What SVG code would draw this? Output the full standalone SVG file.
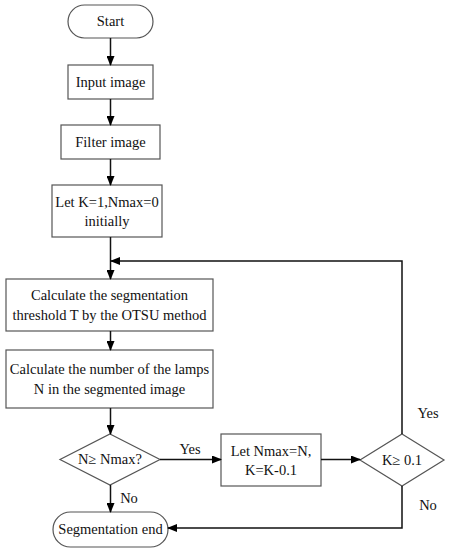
<svg xmlns="http://www.w3.org/2000/svg" width="449" height="550" viewBox="0 0 449 550">
<defs>
<marker id="ah" markerWidth="10" markerHeight="8" refX="9" refY="4" orient="auto" markerUnits="userSpaceOnUse">
<path d="M0,0 L10,4 L0,8 z" fill="#000"/>
</marker>
<style>
.n{fill:#fff;stroke:#555;stroke-width:1.2}
.t{font-family:"Liberation Serif","Times New Roman",serif;font-size:14.5px;fill:#111;text-anchor:middle}
.c{fill:none;stroke:#111;stroke-width:1.5}
</style>
</defs>
<rect width="449" height="550" fill="#fff"/>
<g id="start"><rect class="n" x="68" y="5" width="85" height="33" rx="16.5"/><text class="t" x="110.5" y="26">Start</text></g>
<g id="input"><rect class="n" x="68" y="65" width="85" height="34"/><text class="t" x="110.5" y="87">Input image</text></g>
<g id="filter"><rect class="n" x="61" y="125" width="99" height="34"/><text class="t" x="110.5" y="147">Filter image</text></g>
<g id="init"><rect class="n" x="52" y="185" width="110" height="52"/><text class="t" x="107" y="207">Let K=1,Nmax=0</text><text class="t" x="107" y="226">initially</text></g>
<g id="otsu"><rect class="n" x="6" y="279" width="207" height="52"/><text class="t" x="109.5" y="300">Calculate the segmentation</text><text class="t" x="109.5" y="320">threshold T by the OTSU method</text></g>
<g id="count"><rect class="n" x="6" y="350" width="207" height="58"/><text class="t" x="109.5" y="374">Calculate the number of the lamps</text><text class="t" x="109.5" y="394">N in the segmented image</text></g>
<g id="cmp"><polygon class="n" points="110,434 160,459.5 110,485 60,459.5"/><text class="t" x="110" y="464">N≥ Nmax?</text></g>
<g id="update"><rect class="n" x="221" y="434" width="100" height="52"/><text class="t" x="271" y="456">Let Nmax=N,</text><text class="t" x="271" y="475">K=K-0.1</text></g>
<g id="kcheck"><polygon class="n" points="402,434 444,460 402,486 360,460"/><text class="t" x="402" y="465">K≥ 0.1</text></g>
<g id="end"><rect class="n" x="53" y="512" width="115" height="35" rx="17.5"/><text class="t" x="110.5" y="534">Segmentation end</text></g>
<g id="connectors">
<line class="c" x1="110.5" y1="38" x2="110.5" y2="65" marker-end="url(#ah)"/>
<line class="c" x1="110.5" y1="99" x2="110.5" y2="125" marker-end="url(#ah)"/>
<line class="c" x1="110.5" y1="159" x2="110.5" y2="185" marker-end="url(#ah)"/>
<line class="c" x1="110.5" y1="237" x2="110.5" y2="279" marker-end="url(#ah)"/>
<line class="c" x1="110.5" y1="331" x2="110.5" y2="350" marker-end="url(#ah)"/>
<line class="c" x1="110.5" y1="408" x2="110.5" y2="434" marker-end="url(#ah)"/>
<line class="c" x1="110.5" y1="485" x2="110.5" y2="512" marker-end="url(#ah)"/>
<line class="c" x1="160" y1="459.5" x2="221" y2="459.5" marker-end="url(#ah)"/>
<line class="c" x1="321" y1="459.5" x2="360" y2="459.5" marker-end="url(#ah)"/>
<polyline class="c" points="402,434 402,261 111,261" marker-end="url(#ah)"/>
<polyline class="c" points="402,486 402,528 168,528" marker-end="url(#ah)"/>
<text class="t" x="190" y="454">Yes</text>
<text class="t" x="129" y="503">No</text>
<text class="t" x="428" y="418">Yes</text>
<text class="t" x="428" y="510">No</text>
</g>
</svg>
